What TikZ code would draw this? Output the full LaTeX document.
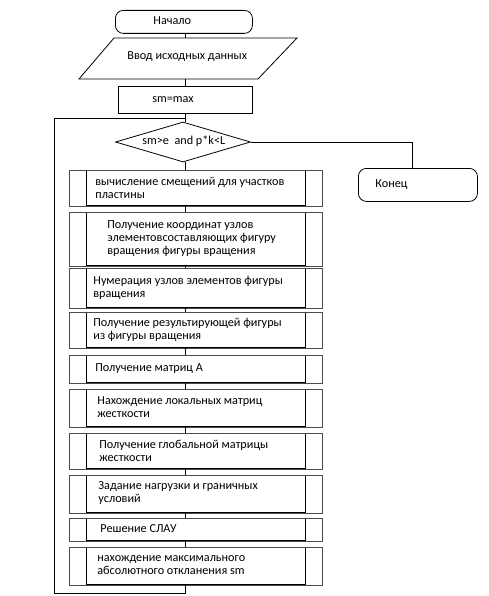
\documentclass[tikz,border=0pt]{standalone}
\usepackage{fontspec}
\setmainfont{Carlito}
\usetikzlibrary{shapes.geometric}
\begin{document}
\begin{tikzpicture}[x=1pt,y=-1pt,
  line width=0.8pt,
  txt/.style={font=\fontsize{12.2}{13}\selectfont, align=left, anchor=west, inner sep=0pt},
  inbox/.style={draw, line width=1.2pt, minimum width=219pt, inner sep=0pt, anchor=north west},
  outer/.style={draw, line width=0.6pt, black!70},
  term/.style={draw, rounded corners=8pt, inner sep=0pt, anchor=north west}
]
\useasboundingbox (0,0) rectangle (489,596);
\fill[white] (0,0) rectangle (489,596);
\coordinate (cx) at (185,0);
% start
\node[term, minimum width=137pt, minimum height=23pt] (start) at (115,10) {};
\node[txt] (tstart) at (153,21) {Начало};
% input parallelogram
\node[minimum width=200pt, minimum height=41pt, inner sep=0pt] (input) at (188,58.5) {};
\draw (114,38) -- (297,38) -- (258,79) -- (79,79) -- cycle;
\node[txt] (tinput) at (127,57) {Ввод исходных данных};
% sm=max
\node[draw, minimum width=134pt, minimum height=27pt, inner sep=0pt, anchor=north west] (init) at (118,86) {};
\node[txt] (tinit) at (152,99.5) {sm=max};
% decision
\node[draw, diamond, minimum width=135pt, minimum height=40pt, inner sep=0pt] (dec) at (183,142) {};
\node[txt] (tdec) at (142,141) {sm>e\ \ and p*k<L};
% end
\node[term, minimum width=119pt, minimum height=33pt] (end) at (358,168) {};
\node[txt] (tend) at (375,184.5) {Конец};
% process boxes
\newcommand{\pbox}[5]{%
  \node[inbox, minimum height=#3pt] (#1) at (86,#2) {};
  \draw[outer] ([xshift=-17pt]#1.north west) rectangle ([xshift=16pt]#1.south east);
  \node[txt] (t#1) at (#4,#2+#3/2) {#5};
}
\pbox{b1}{170}{35}{95}{вычисление смещений для участков\\пластины}
\pbox{b2}{212}{53}{107}{Получение координат узлов\\элементовсоставляющих фигуру\\вращения фигуры вращения}
\pbox{b3}{268}{39}{93}{Нумерация узлов элементов фигуры\\вращения}
\pbox{b4}{312}{35}{93}{Получение результирующей фигуры\\из фигуры вращения}
\pbox{b5}{355}{27}{95}{Получение матриц А}
\pbox{b6}{389}{37}{97}{Нахождение локальных матриц\\жесткости}
\pbox{b7}{433}{35}{99}{Получение глобальной матрицы\\жесткости}
\pbox{b8}{475}{37}{98}{Задание нагрузки и граничных\\условий}
\pbox{b9}{518}{22}{100}{Решение СЛАУ}
\pbox{b10}{547}{37}{97}{нахождение максимального\\абсолютного откланения sm}
% connectors
\draw (start.south -| cx) -- (input.north -| cx);
\draw (input.south -| cx) -- (init.north -| cx);
\draw (init.south -| cx) -- (dec.north -| cx);
\draw (dec.south -| cx) -- (b1.north -| cx);
\draw (b1.south -| cx) -- (b2.north -| cx);
\draw (b2.south -| cx) -- (b3.north -| cx);
\draw (b3.south -| cx) -- (b4.north -| cx);
\draw (b4.south -| cx) -- (b5.north -| cx);
\draw (b5.south -| cx) -- (b6.north -| cx);
\draw (b6.south -| cx) -- (b7.north -| cx);
\draw (b7.south -| cx) -- (b8.north -| cx);
\draw (b8.south -| cx) -- (b9.north -| cx);
\draw (b9.south -| cx) -- (b10.north -| cx);
\coordinate (loopy) at (0,593);
\coordinate (topy) at (0,118);
\coordinate (leftx) at (54,0);
\draw (b10.south -| cx) -- (loopy -| cx) -- (loopy -| leftx) -- (topy -| leftx) -- (topy -| cx);
\draw (dec.east) -| (end.north -| 412,0);
\end{tikzpicture}
\end{document}
